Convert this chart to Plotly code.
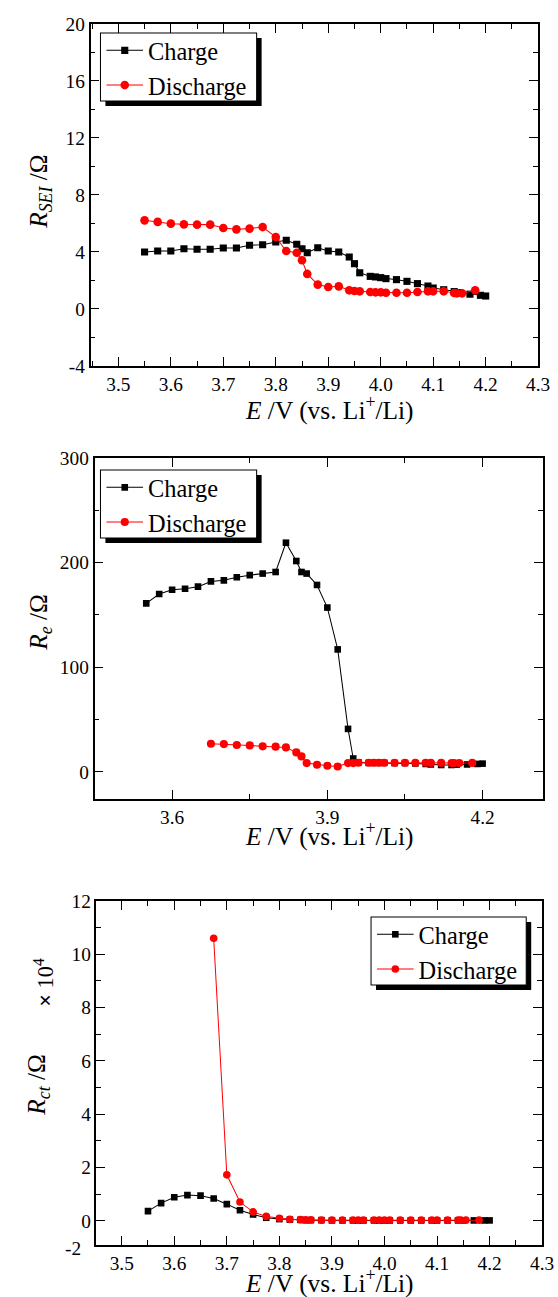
import plotly.graph_objects as go

# ---------------- data ----------------
# Panel (a): R_SEI vs potential
sei_charge_E = [3.55, 3.575, 3.60, 3.625, 3.65, 3.675, 3.70, 3.725, 3.75, 3.775, 3.80, 3.82, 3.84, 3.85,
                3.86, 3.88, 3.90, 3.92, 3.94, 3.95, 3.96, 3.98, 3.99, 4.00, 4.01, 4.03, 4.05, 4.07, 4.09,
                4.10, 4.12, 4.14, 4.15, 4.17, 4.19, 4.20]
sei_charge_R = [4.00, 4.07, 4.07, 4.23, 4.19, 4.19, 4.28, 4.28, 4.47, 4.51, 4.70, 4.82, 4.54, 4.23,
                3.95, 4.30, 4.07, 4.00, 3.65, 3.18, 2.54, 2.29, 2.25, 2.20, 2.13, 2.06, 1.94, 1.78, 1.61,
                1.47, 1.35, 1.22, 1.15, 1.04, 0.96, 0.91]
sei_dis_E = [3.55, 3.575, 3.60, 3.625, 3.65, 3.675, 3.70, 3.725, 3.75, 3.775, 3.80, 3.82, 3.84, 3.85,
             3.86, 3.88, 3.90, 3.92, 3.94, 3.95, 3.96, 3.98, 3.99, 4.00, 4.01, 4.03, 4.05, 4.07, 4.09,
             4.10, 4.12, 4.14, 4.145, 4.155, 4.18]
sei_dis_R = [6.22, 6.11, 5.99, 5.94, 5.92, 5.92, 5.68, 5.59, 5.64, 5.75, 5.05, 4.07, 3.95, 3.42,
             2.46, 1.71, 1.54, 1.59, 1.31, 1.26, 1.24, 1.19, 1.17, 1.17, 1.14, 1.14, 1.14, 1.19, 1.24,
             1.24, 1.24, 1.12, 1.10, 1.10, 1.31]

# Panel (b): R_e vs potential
re_charge_E = [3.55, 3.575, 3.60, 3.625, 3.65, 3.675, 3.70, 3.725, 3.75, 3.775, 3.80, 3.82, 3.84, 3.85,
               3.86, 3.88, 3.90, 3.92, 3.94, 3.95, 3.96, 3.98, 3.99, 4.00, 4.01, 4.03, 4.05, 4.07, 4.09,
               4.10, 4.12, 4.14, 4.15, 4.17, 4.19, 4.20]
re_charge_R = [161, 170, 174, 175, 177, 182, 183, 186, 188, 189.5, 191, 219, 201.5, 191,
               189.5, 178.6, 157, 117, 41, 12.7, 9, 8.5, 8.5, 8.5, 8.5, 8.3, 8.3, 8, 7.5,
               7, 6.5, 6.5, 6.8, 7, 7.5, 7.8]
re_dis_E = [3.675, 3.70, 3.725, 3.75, 3.775, 3.80, 3.82, 3.84, 3.85, 3.86, 3.88, 3.90, 3.92, 3.94,
            3.95, 3.96, 3.98, 3.99, 4.00, 4.01, 4.03, 4.05, 4.07, 4.09, 4.10, 4.12, 4.14, 4.145,
            4.155, 4.18]
re_dis_R = [26.8, 26.5, 25.6, 25.2, 24.3, 24.0, 23.3, 18.5, 14.7, 8.3, 6.7, 5.8, 5.1, 8.3,
            8.3, 8.6, 8.6, 8.6, 8.6, 8.6, 8.6, 8.6, 8.6, 8.6, 8.5, 8.5, 8.3, 8.3,
            8.3, 8.5]

# Panel (c): R_ct vs potential (in units of 10^4 ohm)
rct_charge_E = [3.55, 3.575, 3.60, 3.625, 3.65, 3.675, 3.70, 3.725, 3.75, 3.775, 3.80, 3.82, 3.84, 3.85,
                3.86, 3.88, 3.90, 3.92, 3.94, 3.95, 3.96, 3.98, 3.99, 4.00, 4.01, 4.03, 4.05, 4.07, 4.09,
                4.10, 4.12, 4.14, 4.15, 4.17, 4.19, 4.20]
rct_charge_R = [0.37, 0.67, 0.89, 0.97, 0.95, 0.84, 0.63, 0.40, 0.24, 0.12, 0.07, 0.05, 0.04, 0.03,
                0.03, 0.03, 0.02, 0.02, 0.02, 0.02, 0.02, 0.02, 0.02, 0.02, 0.02, 0.02, 0.02, 0.02, 0.02,
                0.02, 0.02, 0.02, 0.02, 0.02, 0.02, 0.02]
rct_dis_E = [3.675, 3.70, 3.725, 3.75, 3.775, 3.80, 3.82, 3.84, 3.85, 3.86, 3.88, 3.90, 3.92, 3.94,
             3.95, 3.96, 3.98, 3.99, 4.00, 4.01, 4.03, 4.05, 4.07, 4.09, 4.10, 4.12, 4.14, 4.145,
             4.155, 4.18]
rct_dis_R = [10.6, 1.73, 0.71, 0.34, 0.17, 0.10, 0.06, 0.05, 0.04, 0.04, 0.03, 0.03, 0.03, 0.03,
             0.03, 0.03, 0.03, 0.03, 0.03, 0.03, 0.03, 0.03, 0.03, 0.03, 0.03, 0.03, 0.03, 0.03,
             0.03, 0.03]

# tick labels
x_ticks_fine = [3.5, 3.6, 3.7, 3.8, 3.9, 4.0, 4.1, 4.2, 4.3]
x_ticks_fine_text = ["3.5", "3.6", "3.7", "3.8", "3.9", "4.0", "4.1", "4.2", "4.3"]
x_ticks_coarse = [3.6, 3.9, 4.2]
x_ticks_coarse_text = ["3.6", "3.9", "4.2"]
sei_ticks = [-4, 0, 4, 8, 12, 16, 20]
sei_ticks_text = ["-4", "0", "4", "8", "12", "16", "20"]
re_ticks = [0, 100, 200, 300]
re_ticks_text = ["0", "100", "200", "300"]
rct_ticks = [0, 2, 4, 6, 8, 10, 12]
rct_ticks_text = ["0", "2", "4", "6", "8", "10", "12"]
rct_corner_label = "-2"

series_names = ["Charge", "Discharge"]

# ---------------- layout helpers ----------------
# Positions below are given in screen pixels.  The page is displayed at
# factor S and sits TOP px down, so figure size, positions and sizes are
# converted accordingly.
S = 0.984
TOP = 8
W = round(558 / S)
H = round(1297 / S) - TOP
FONT = "Liberation Serif, Times New Roman, Times, serif"


def px_x(p):
    return (p / S) / W


def px_y(p):
    return 1 - ((p - TOP) / S) / H


def sz(v):
    return v / S


def axis_style(**kw):
    base = dict(
        showline=True, linecolor="black", linewidth=sz(1.6), mirror="allticks",
        ticks="inside", ticklen=sz(9), tickwidth=sz(1.4), tickcolor="black",
        showgrid=False, zeroline=False, ticklabeloverflow="allow",
        tickfont=dict(family=FONT, size=sz(19), color="black"),
    )
    base.update(kw)
    return base


def minor(dtick, tick0):
    return dict(dtick=dtick, tick0=tick0, ticks="inside", ticklen=sz(5), tickwidth=sz(1.2),
                tickcolor="black")


fig = go.Figure()

panels = [
    ("x", "y", "legend", sei_charge_E, sei_charge_R, sei_dis_E, sei_dis_R, 7, 8.5),
    ("x2", "y2", "legend2", re_charge_E, re_charge_R, re_dis_E, re_dis_R, 6.5, 8),
    ("x3", "y3", "legend3", rct_charge_E, rct_charge_R, rct_dis_E, rct_dis_R, 6.5, 7.5),
]
for xa, ya, lg, ce, cr, de, dr, sq, cs in panels:
    fig.add_trace(go.Scatter(
        x=ce, y=cr, mode="lines+markers", name=series_names[0], xaxis=xa, yaxis=ya, legend=lg,
        line=dict(color="black", width=sz(1)),
        marker=dict(symbol="square", size=sz(sq), color="black"),
    ))
    fig.add_trace(go.Scatter(
        x=de, y=dr, mode="lines+markers", name=series_names[1], xaxis=xa, yaxis=ya, legend=lg,
        line=dict(color="#ff0000", width=sz(1)),
        marker=dict(symbol="circle", size=sz(cs), color="#ff0000"),
    ))

legend_common = dict(
    bgcolor="rgba(0,0,0,0)", borderwidth=0,
    font=dict(family=FONT, size=sz(24), color="black"),
    xanchor="left", yanchor="top", tracegroupgap=0, itemwidth=sz(36),
)

# framed legend boxes (left, top, right, bottom) and legend anchors, in pixels
leg_boxes = [(101, 31, 258, 99), (101, 468, 258, 536), (373, 915, 529, 983)]
leg_anchor = [(102, 26), (102, 463), (374, 910)]

fig.update_layout(
    width=W, height=H,
    margin=dict(l=0, r=0, t=0, b=0),
    paper_bgcolor="white", plot_bgcolor="white",
    showlegend=True,
    xaxis=axis_style(domain=[px_x(91), px_x(541)], range=[3.447, 4.3], anchor="y",
                     tickvals=x_ticks_fine, ticktext=x_ticks_fine_text, minor=minor(0.05, 3.5)),
    yaxis=axis_style(domain=[px_y(364), px_y(22)], range=[-4, 20], anchor="x",
                     tickvals=sei_ticks, ticktext=sei_ticks_text, minor=minor(2, 0)),
    xaxis2=axis_style(domain=[px_x(95), px_x(546)], range=[3.45, 4.317], anchor="y2",
                      tickvals=x_ticks_coarse, ticktext=x_ticks_coarse_text, minor=minor(0.15, 3.6)),
    yaxis2=axis_style(domain=[px_y(797), px_y(456)], range=[-26, 300], anchor="x2",
                      tickvals=re_ticks, ticktext=re_ticks_text, minor=minor(50, 0)),
    xaxis3=axis_style(domain=[px_x(97), px_x(545)], range=[3.452, 4.3], anchor="y3",
                      tickvals=x_ticks_fine, ticktext=x_ticks_fine_text, minor=minor(0.05, 3.5)),
    yaxis3=axis_style(domain=[px_y(1243), px_y(899)], range=[-0.9, 12], anchor="x3",
                      tickvals=rct_ticks, ticktext=rct_ticks_text, minor=minor(1, 0)),
    legend=dict(x=px_x(leg_anchor[0][0]), y=px_y(leg_anchor[0][1]), **legend_common),
    legend2=dict(x=px_x(leg_anchor[1][0]), y=px_y(leg_anchor[1][1]), **legend_common),
    legend3=dict(x=px_x(leg_anchor[2][0]), y=px_y(leg_anchor[2][1]), **legend_common),
)

# legend frames with drop shadows
for l, t, r, b in leg_boxes:
    fig.add_shape(type="rect", xref="paper", yref="paper",
                  x0=px_x(l + 5), x1=px_x(r + 5), y0=px_y(b + 5), y1=px_y(t + 5),
                  fillcolor="black", line=dict(width=0), layer="above")
    fig.add_shape(type="rect", xref="paper", yref="paper",
                  x0=px_x(l), x1=px_x(r), y0=px_y(b), y1=px_y(t),
                  fillcolor="white", line=dict(color="black", width=sz(1)), layer="above")

# axis titles
xtitle = "<i>E</i> /V (vs. Li<sup>+</sup>/Li)"
title_font = dict(family=FONT, size=sz(25), color="black")
for yc in (407, 833, 1280):
    fig.add_annotation(text=xtitle, xref="paper", yref="paper", x=px_x(331), y=px_y(yc),
                       showarrow=False, xanchor="center", yanchor="middle", font=title_font)

ytitles = [
    ("<i>R</i><sub><i>SEI</i></sub> /Ω", 40, 190),
    ("<i>R</i><sub><i>e</i></sub> /Ω", 40, 620),
    ("<i>R</i><sub><i>ct</i></sub> /Ω", 38, 1083),
]
for txt, xc, yc in ytitles:
    fig.add_annotation(text=txt, xref="paper", yref="paper", x=px_x(xc), y=px_y(yc),
                       showarrow=False, xanchor="center", yanchor="middle", textangle=-90,
                       font=title_font)

fig.add_annotation(text="<b>×</b> 10<sup>4</sup>", xref="paper", yref="paper", x=px_x(44), y=px_y(980),
                   showarrow=False, xanchor="center", yanchor="middle", textangle=-90,
                   font=dict(family=FONT, size=sz(22), color="black"))

# lower-corner label of the R_ct axis
fig.add_annotation(text=rct_corner_label, xref="paper", yref="paper", x=px_x(83), y=px_y(1247),
                   showarrow=False, xanchor="right", yanchor="middle",
                   font=dict(family=FONT, size=sz(19), color="black"))

fig.write_html("out.html")
